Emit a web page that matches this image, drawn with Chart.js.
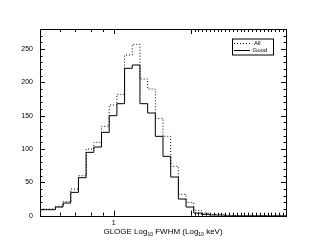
<!DOCTYPE html>
<html>
<head>
<meta charset="utf-8">
<script src="https://cdn.jsdelivr.net/npm/chart.js@4/dist/chart.umd.min.js"></script>
<style>
  html, body { margin: 0; padding: 0; background: #fff; }
  #wrap { width: 311px; height: 249px; }
</style>
</head>
<body>
<div id="wrap"><canvas id="fwhmChart" width="311" height="249"></canvas></div>
<script>
// histogram bins (log10 FWHM), lower edge of first bin and width
var binStart = 0.04;
var binWidth = 0.1;
var goodCounts = [9, 9, 13, 19, 35, 57, 95, 103, 125, 150, 168, 221, 226, 168, 154, 119,
                  89, 58, 25, 13, 4, 2, 1, 1, 0, 0, 0, 0, 0, 0, 0, 0];
var allCounts = [10, 10, 14, 21, 40, 60, 100, 110, 134, 166, 182, 241, 257, 205, 190, 146,
                 119, 74, 32, 20, 8, 4, 2, 1, 0, 0, 0, 0, 0, 0, 0, 0];
var seriesNames = ["All", "Good"];

// axis ticks
var xMajorTicks = [1, 2];
var xLabelTicks = [1];
var xMinorTicks = [0.3, 0.5, 0.7, 0.86, 2.05, 2.1, 2.15, 2.2, 2.25, 2.3, 2.35, 2.4, 2.45, 2.5,
                   2.55, 2.6, 2.65, 2.7, 2.75, 2.8, 2.85, 2.9, 2.95, 3.0, 3.05, 3.1, 3.15, 3.2];
var yMajorTicks = [0, 50, 100, 150, 200, 250];
var yMinorStep = 10;
var xMin = 0.04, xMax = 3.24, yMin = 0, yMax = 280;

function toSteps(counts) {
    var pts = [];
    for (var i = 0; i < counts.length; i++) {
        pts.push({ x: binStart + i * binWidth, y: counts[i] });
    }
    pts.push({ x: binStart + counts.length * binWidth, y: counts[counts.length - 1] });
    return pts;
}

var fontName = "'Liberation Sans', Arial, sans-serif";

var rootFrame = {
    id: "rootFrame",
    afterDatasetsDraw: function (chart) {
        var ctx = chart.ctx;
        var a = chart.chartArea;
        var xs = chart.scales.x, ys = chart.scales.y;
        ctx.save();
        ctx.strokeStyle = "#000";
        ctx.lineWidth = 1;
        ctx.strokeRect(Math.round(a.left) + 0.5, Math.round(a.top) + 0.5,
            Math.round(a.right - a.left), Math.round(a.bottom - a.top));

        ctx.beginPath();
        function xTick(v, len) {
            var px = Math.round(xs.getPixelForValue(v)) + 0.5;
            ctx.moveTo(px, a.bottom); ctx.lineTo(px, a.bottom - len);
            ctx.moveTo(px, a.top); ctx.lineTo(px, a.top + len);
        }
        function yTick(v, len) {
            var py = Math.round(ys.getPixelForValue(v)) + 0.5;
            ctx.moveTo(a.left, py); ctx.lineTo(a.left + len, py);
            ctx.moveTo(a.right, py); ctx.lineTo(a.right - len, py);
        }
        xMajorTicks.forEach(function (v) { xTick(v, 5); });
        xMinorTicks.forEach(function (v) { xTick(v, 3); });
        for (var v = yMin; v <= yMax; v += yMinorStep) {
            yTick(v, yMajorTicks.indexOf(v) >= 0 ? 5 : 2.5);
        }
        ctx.stroke();

        // legend box
        var lx = 232, ly = 38.5, lw = 41, lh = 16;
        ctx.fillStyle = "#fff";
        ctx.fillRect(lx, ly, lw, lh);
        ctx.strokeRect(lx + 0.5, ly + 0.5, lw, lh);
        ctx.font = "6px " + fontName;
        ctx.fillStyle = "#000";
        ctx.textBaseline = "middle";
        chart.data.datasets.forEach(function (ds, i) {
            var yy = ly + 4.5 + i * 6.5;
            ctx.beginPath();
            ctx.setLineDash(ds.borderDash || []);
            ctx.moveTo(lx + 2, Math.round(yy) + 0.5);
            ctx.lineTo(lx + 18, Math.round(yy) + 0.5);
            ctx.stroke();
            ctx.setLineDash([]);
            ctx.fillText(ds.label, lx + (ds.label === "All" ? 22 : 20.5), yy + 0.5);
        });

        // x axis title with subscripts
        var parts = [["GLOGE Log", 8, 0], ["10", 5, 2], [" FWHM (Log", 8, 0], ["10", 5, 2], [" keV)", 8, 0]];
        var total = 0;
        parts.forEach(function (p) { ctx.font = p[1] + "px " + fontName; total += ctx.measureText(p[0]).width; });
        var tx = 163 - total / 2, ty = 231;
        ctx.textBaseline = "alphabetic";
        parts.forEach(function (p) {
            ctx.font = p[1] + "px " + fontName;
            ctx.fillText(p[0], tx, ty + 3 + p[2]);
            tx += ctx.measureText(p[0]).width;
        });
        ctx.restore();
    }
};

new Chart("fwhmChart", {
    type: "line",
    data: {
        datasets: [{
            label: seriesNames[0],
            data: toSteps(allCounts),
            stepped: true,
            borderColor: "#000",
            borderWidth: 1,
            borderDash: [1, 2],
            pointRadius: 0,
            fill: false
        }, {
            label: seriesNames[1],
            data: toSteps(goodCounts),
            stepped: true,
            borderColor: "#000",
            borderWidth: 1,
            pointRadius: 0,
            fill: false
        }]
    },
    options: {
        responsive: false,
        animation: false,
        layout: { padding: { left: 0, top: 29, right: 25, bottom: 0 } },
        plugins: { legend: { display: false }, tooltip: { enabled: false } },
        scales: {
            x: {
                type: "linear",
                min: xMin,
                max: xMax,
                grid: { display: false, drawTicks: false },
                border: { display: false },
                afterBuildTicks: function (s) {
                    s.ticks = xLabelTicks.map(function (v) { return { value: v }; });
                },
                afterFit: function (s) { s.height = 33.3; },
                ticks: {
                    autoSkip: false,
                    maxRotation: 0,
                    padding: 3,
                    color: "#000",
                    font: { size: 7, family: fontName },
                    callback: function (v) { return String(v); }
                }
            },
            y: {
                min: yMin,
                max: yMax,
                grid: { display: false, drawTicks: false },
                border: { display: false },
                afterBuildTicks: function (s) {
                    s.ticks = yMajorTicks.map(function (v) { return { value: v }; });
                },
                afterFit: function (s) { s.width = 40; },
                ticks: {
                    padding: 7,
                    color: "#000",
                    font: { size: 7, family: fontName }
                }
            }
        }
    },
    plugins: [rootFrame]
});
</script>
</body>
</html>
